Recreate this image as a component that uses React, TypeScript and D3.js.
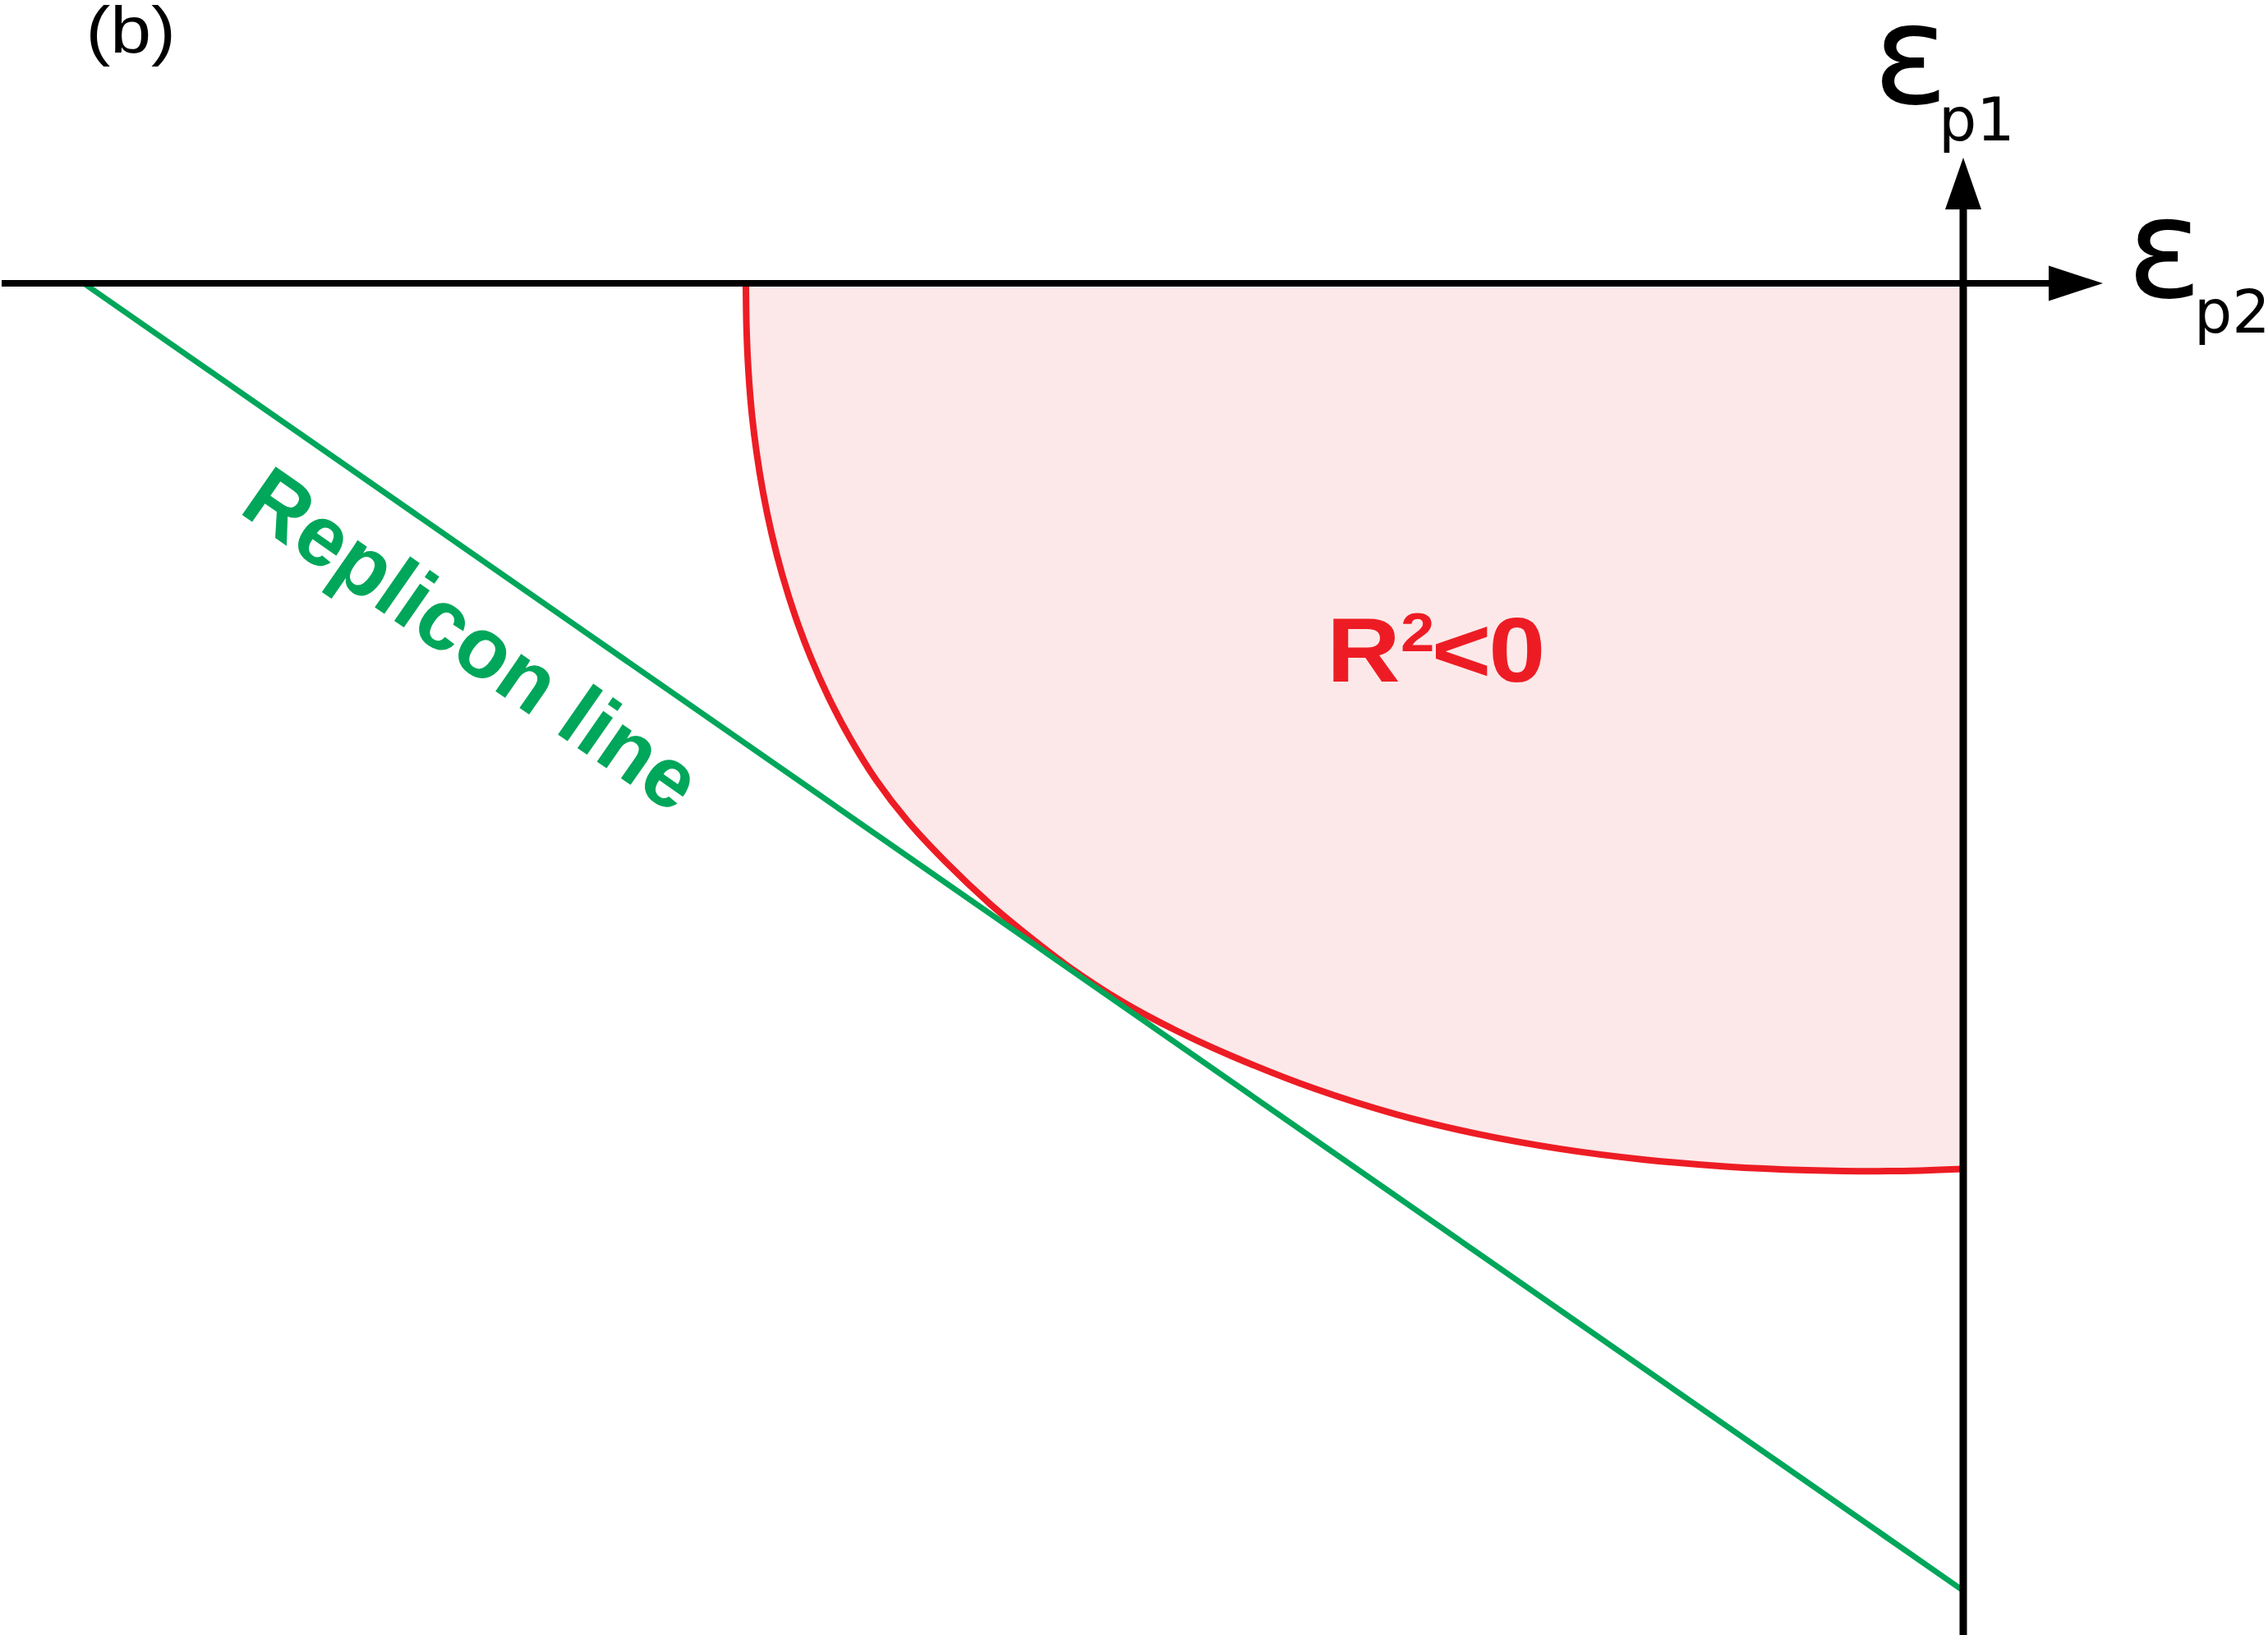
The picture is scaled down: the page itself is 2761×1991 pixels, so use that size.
import React from "react";
import * as d3 from "d3";

// ---- data (abstract units: 1 unit = 100 px, origin at the axes crossing) ----
// Red boundary curve (R^2 = 0): ε_p2 values and matching ε_p1 values
const redEp2 = [
  -14.82, -14.812, -14.79, -14.751, -14.691, -14.61, -14.506, -14.377, -14.22, -14.032,
  -13.809, -13.545, -13.233, -12.849, -12.383, -11.845, -11.33, -10.9, -10.23, -9.57,
  -8.9, -7.9, -6.9, -5.9, -4.9, -3.9, -2.9, -1.9, -0.9, 0.0,
];
const redEp1 = [
  0.0, -0.55, -1.05, -1.55, -2.05, -2.55, -3.05, -3.55, -4.05, -4.55,
  -5.05, -5.55, -6.05, -6.55, -7.05, -7.56, -7.987, -8.314, -8.752, -9.105,
  -9.412, -9.806, -10.121, -10.361, -10.541, -10.669, -10.754, -10.799, -10.811, -10.784,
];
// Replicon (green) line end points
const repliconEp2 = [-22.88, 0.0];
const repliconEp1 = [0.0, -15.92];

// Labels
const panelLabel = "(b)";
const regionLabel = { base: "R", sup: "2", rest1: "<", rest2: "0" };
const lineLabel = "Replicon line";
const axisSymbol = "ε";
const axisSubs = ["p1", "p2"];

const W = 2761;
const H = 1991;
const FONT = "'DejaVu Sans', Verdana, sans-serif";
const ARIAL = "'Liberation Sans', Arial, Helvetica, sans-serif";
const RED = "#ed1c24";
const GREEN = "#00a65a";
const PINK = "#fde8e9";

export default function App() {
  const x = d3.scaleLinear().domain([-23.9, 3.71]).range([0, W]);
  const y = d3.scaleLinear().domain([3.45, -16.46]).range([0, H]);

  const pts: [number, number][] = redEp2.map((v, i) => [v, redEp1[i]]);

  const curve = d3
    .line<[number, number]>()
    .x((d) => x(d[0]))
    .y((d) => y(d[1]))
    .curve(d3.curveCatmullRom.alpha(0.5));

  const area = d3
    .area<[number, number]>()
    .x((d) => x(d[0]))
    .y0(y(0))
    .y1((d) => y(d[1]))
    .curve(d3.curveCatmullRom.alpha(0.5));

  const ox = x(0);
  const oy = y(0);

  // replicon line geometry
  const gx1 = x(repliconEp2[0]);
  const gy1 = y(repliconEp1[0]);
  const gx2 = x(repliconEp2[1]);
  const gy2 = y(repliconEp1[1]);
  const ang = (Math.atan2(gy2 - gy1, gx2 - gx1) * 180) / Math.PI;

  // axis extents
  const hLeft = x(-23.88);
  const hBase = x(1.04);
  const hTip = x(1.7);
  const vTop = y(1.53);
  const vBase = y(0.9);

  const rx = 1624; // anchor of horizontally stretched region label
  const bx = 110; // anchor of stretched panel label

  return (
    <svg
      width={W}
      height={H}
      viewBox={`0 0 ${W} ${H}`}
      style={{ position: "absolute", left: 0, top: 0, background: "#fff" }}
    >
      <rect x={0} y={0} width={W} height={H} fill="#fff" />
      {/* pink region */}
      <path d={area(pts) || ""} fill={PINK} stroke="none" />
      {/* red boundary */}
      <path d={curve(pts) || ""} fill="none" stroke={RED} strokeWidth={8} />
      {/* replicon line */}
      <line x1={gx1} y1={gy1} x2={gx2} y2={gy2} stroke={GREEN} strokeWidth={7} />

      {/* axes */}
      <line x1={hLeft} y1={oy} x2={hBase} y2={oy} stroke="#000" strokeWidth={8} />
      <path
        d={`M${hBase},${oy - 21.5} L${hTip},${oy} L${hBase},${oy + 21.5} Z`}
        fill="#000"
      />
      <line x1={ox} y1={H} x2={ox} y2={vBase} stroke="#000" strokeWidth={9} />
      <path
        d={`M${ox - 22},${vBase} L${ox},${vTop} L${ox + 22},${vBase} Z`}
        fill="#000"
      />

      {/* axis labels */}
      <text x={2280} y={126} fontFamily={FONT} fontSize={170} fill="#000">
        {axisSymbol}
      </text>
      <text x={2360} y={171} fontFamily={FONT} fontSize={73} fill="#000">
        {axisSubs[0]}
      </text>
      <text x={2589} y={362} fontFamily={FONT} fontSize={170} fill="#000">
        {axisSymbol}
      </text>
      <text x={2671} y={405} fontFamily={FONT} fontSize={73} fill="#000">
        {axisSubs[1]}
      </text>

      {/* panel label */}
      <g transform={`translate(${bx},0) scale(1.12,1) translate(${-bx},0)`}>
        <text x={105} y={64} fontFamily={ARIAL} fontSize={80} fill="#000">
          {panelLabel}
        </text>
      </g>

      {/* region label */}
      <g transform={`translate(${rx},0) scale(1.11,1) translate(${-rx},0)`}>
        <text fontFamily={ARIAL} fontWeight="bold" fill={RED}>
          <tspan x={1615.8} y={830} fontSize={112}>
            {regionLabel.base}
          </tspan>
          <tspan x={1697} y={793} fontSize={67}>
            {regionLabel.sup}
          </tspan>
          <tspan x={1731} y={830} fontSize={112}>
            {regionLabel.rest1}
          </tspan>
          <tspan x={1793.5} y={830} fontSize={112}>
            {regionLabel.rest2}
          </tspan>
        </text>
      </g>

      {/* replicon label */}
      <text
        transform={`translate(289,623) rotate(${ang})`}
        x={0}
        y={0}
        fontFamily={ARIAL}
        fontWeight="bold"
        fontSize={104}
        fill={GREEN}
      >
        {lineLabel}
      </text>
    </svg>
  );
}
